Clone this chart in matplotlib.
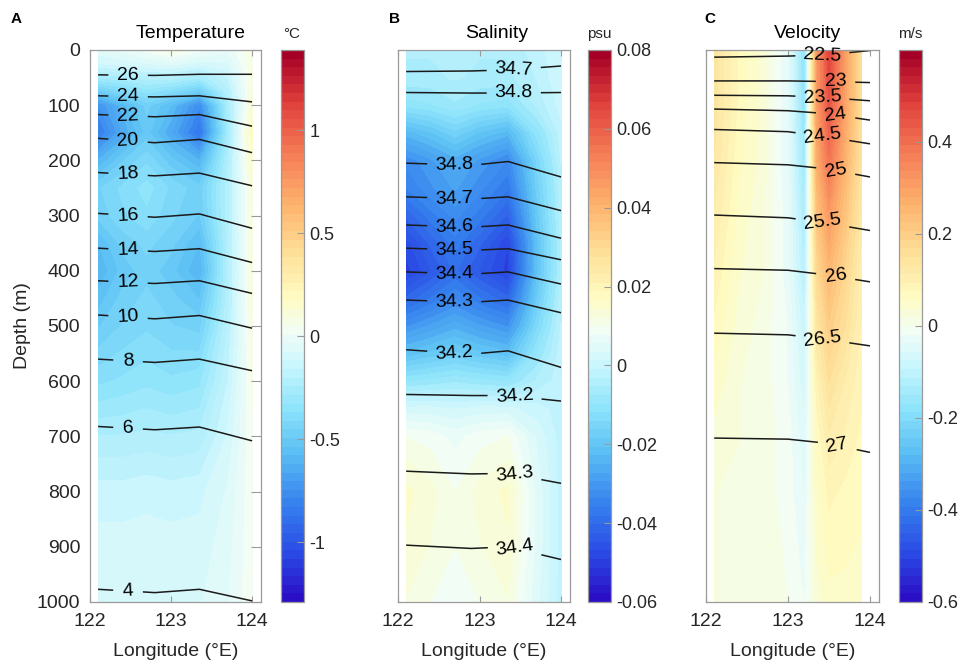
import numpy as np
import matplotlib.pyplot as plt
from matplotlib.colors import LinearSegmentedColormap, Normalize
import matplotlib.cm as cm

plt.rcParams['font.family'] = ['Liberation Sans', 'DejaVu Sans']
plt.rcParams['axes.unicode_minus'] = False

# =========================
# 1. data
# =========================
# --- anomaly fields (filled) ---
temp_lon = [122.1, 122.4, 122.7, 123.0, 123.35, 123.7, 124.0]
temp_depth = [0, 25, 50, 75, 100, 150, 200, 250, 300, 350, 400, 450, 500, 600, 700, 800, 900, 1000]
temp_anom = [
    [-0.05, -0.02, 0.02, 0.08, 0.02, -0.02, 0.08],
    [-0.12, -0.10, -0.08, -0.06, -0.10, -0.08, 0.08],
    [-0.28, -0.26, -0.22, -0.22, -0.28, -0.16, 0.08],
    [-0.50, -0.42, -0.35, -0.40, -0.50, -0.22, 0.10],
    [-0.75, -0.60, -0.48, -0.58, -0.78, -0.26, 0.12],
    [-0.85, -0.66, -0.52, -0.66, -0.88, -0.28, 0.20],
    [-0.62, -0.50, -0.42, -0.52, -0.62, -0.24, 0.15],
    [-0.46, -0.40, -0.35, -0.42, -0.48, -0.22, 0.10],
    [-0.48, -0.42, -0.38, -0.44, -0.50, -0.22, 0.10],
    [-0.58, -0.48, -0.44, -0.48, -0.58, -0.23, 0.10],
    [-0.62, -0.52, -0.47, -0.52, -0.62, -0.23, 0.10],
    [-0.56, -0.48, -0.44, -0.48, -0.54, -0.22, 0.10],
    [-0.50, -0.45, -0.42, -0.45, -0.47, -0.20, 0.08],
    [-0.38, -0.36, -0.34, -0.36, -0.34, -0.16, 0.06],
    [-0.24, -0.24, -0.23, -0.24, -0.23, -0.11, 0.04],
    [-0.14, -0.14, -0.13, -0.14, -0.13, -0.07, 0.04],
    [-0.10, -0.10, -0.10, -0.10, -0.10, -0.05, 0.04],
    [-0.08, -0.08, -0.08, -0.08, -0.08, -0.04, 0.04],
]

sal_lon = [122.1, 122.4, 122.7, 123.0, 123.35, 123.7, 124.0]
sal_depth = [0, 50, 100, 150, 200, 250, 300, 350, 400, 450, 500, 550, 600, 650, 700, 800, 900, 1000]
sal_anom = [
    [-0.005, -0.005, -0.004, -0.005, -0.005, -0.002, 0.001],
    [-0.006, -0.006, -0.005, -0.006, -0.006, -0.003, 0.001],
    [-0.011, -0.010, -0.008, -0.010, -0.011, -0.005, 0.000],
    [-0.024, -0.021, -0.017, -0.021, -0.024, -0.011, -0.002],
    [-0.033, -0.030, -0.026, -0.030, -0.034, -0.016, -0.003],
    [-0.036, -0.032, -0.029, -0.033, -0.038, -0.018, -0.004],
    [-0.042, -0.037, -0.033, -0.037, -0.043, -0.020, -0.004],
    [-0.048, -0.042, -0.037, -0.042, -0.049, -0.022, -0.005],
    [-0.050, -0.045, -0.040, -0.045, -0.050, -0.022, -0.005],
    [-0.042, -0.038, -0.034, -0.038, -0.042, -0.019, -0.004],
    [-0.032, -0.029, -0.026, -0.029, -0.032, -0.015, -0.003],
    [-0.022, -0.020, -0.018, -0.020, -0.022, -0.010, -0.002],
    [-0.010, -0.009, -0.008, -0.009, -0.010, -0.005, -0.002],
    [0.002, 0.002, 0.001, 0.002, 0.002, 0.000, -0.002],
    [0.010, 0.009, 0.007, 0.009, 0.010, 0.003, -0.002],
    [0.015, 0.013, 0.010, 0.013, 0.015, 0.005, -0.002],
    [0.014, 0.012, 0.010, 0.012, 0.014, 0.005, -0.002],
    [0.012, 0.010, 0.009, 0.010, 0.012, 0.004, -0.002],
]

vel_lon = [122.1, 122.4, 122.7, 123.0, 123.2, 123.35, 123.5, 123.7, 123.9]
vel_depth = [0, 100, 200, 300, 400, 500, 600, 700, 800, 1000]
vel_anom = [
    [0.14, 0.07, 0.03, -0.04, -0.18, 0.31, 0.48, 0.30, 0.15],
    [0.14, 0.07, 0.03, -0.04, -0.18, 0.30, 0.45, 0.29, 0.15],
    [0.13, 0.06, 0.03, -0.04, -0.16, 0.27, 0.39, 0.26, 0.14],
    [0.11, 0.05, 0.02, -0.03, -0.14, 0.22, 0.31, 0.22, 0.12],
    [0.09, 0.04, 0.02, -0.03, -0.12, 0.17, 0.25, 0.18, 0.10],
    [0.07, 0.03, 0.01, -0.02, -0.09, 0.13, 0.20, 0.15, 0.09],
    [0.05, 0.02, 0.01, -0.02, -0.07, 0.09, 0.15, 0.11, 0.08],
    [0.03, 0.02, 0.01, -0.01, -0.05, 0.06, 0.11, 0.09, 0.07],
    [0.02, 0.01, 0.01, -0.01, -0.04, 0.05, 0.08, 0.07, 0.06],
    [0.02, 0.01, 0.01, 0.00, -0.02, 0.03, 0.05, 0.05, 0.05],
]

# --- isolines: depth (m) of each row value at a few longitudes ---
temp_line_lon = [122.1, 122.8, 123.35, 124.0]
temp_row_value = [28, 26, 24, 22, 20, 18, 16, 14, 12, 10, 8, 6, 4, 3]
temp_row_depth = [
    [0, 0, 0, 0],
    [45, 46, 44, 44],
    [83, 85, 83, 94],
    [117, 121, 117, 138],
    [160, 168, 162, 186],
    [222, 228, 223, 246],
    [296, 303, 297, 323],
    [359, 365, 360, 385],
    [418, 423, 418, 441],
    [480, 487, 481, 504],
    [560, 566, 560, 581],
    [682, 688, 683, 708],
    [977, 983, 977, 998],
    [1000, 1000, 1000, 1000],
]
temp_levels = [4, 6, 8, 10, 12, 14, 16, 18, 20, 22, 24, 26]

sal_line_lon = [122.1, 122.9, 123.35, 124.0]
sal_row_value = [34.66, 34.7, 34.8, 34.85, 34.8, 34.7, 34.6, 34.5, 34.4, 34.3,
                 34.2, 34.15, 34.2, 34.3, 34.4, 34.45]
sal_row_depth = [
    [0, 0, 0, 0],
    [39, 38, 36, 29],
    [77, 78, 78, 77],
    [140, 142, 140, 150],
    [205, 209, 202, 230],
    [266, 270, 266, 291],
    [317, 321, 317, 341],
    [359, 363, 360, 380],
    [402, 406, 402, 424],
    [453, 457, 453, 476],
    [543, 551, 545, 575],
    [585, 590, 586, 605],
    [624, 626, 626, 636],
    [763, 768, 767, 785],
    [897, 903, 900, 923],
    [1000, 1000, 1000, 1000],
]
sal_levels = [34.2, 34.3, 34.4, 34.5, 34.6, 34.7, 34.8]

dens_line_lon = [122.1, 123.0, 123.45, 124.0]
dens_row_value = [22.3, 22.5, 23, 23.5, 24, 24.5, 25, 25.5, 26, 26.5, 27, 27.3]
dens_row_depth = [
    [0, 0, 0, 0],
    [13, 11, 9, 1],
    [56, 56, 57, 59],
    [82, 83, 86, 92],
    [107, 110, 115, 127],
    [144, 148, 157, 170],
    [204, 208, 215, 230],
    [299, 304, 313, 327],
    [396, 399, 407, 420],
    [513, 516, 524, 536],
    [703, 705, 712, 729],
    [1000, 1000, 1000, 1000],
]
dens_levels = [22.5, 23, 23.5, 24, 24.5, 25, 25.5, 26, 26.5, 27]

# label anchor points (lon, depth)
temp_label_pos = [(122.47, d) for d in [45, 84, 118, 162, 224, 298, 361, 419, 482, 562, 684, 979]]
sal_label_pos = [(123.42, 36), (123.42, 78), (122.69, 207), (122.69, 268), (122.69, 319),
                 (122.69, 361), (122.69, 404), (122.69, 455), (122.69, 547),
                 (123.43, 628), (123.43, 770), (123.43, 905)]
dens_label_pos = [(123.42, 9), (123.58, 58), (123.42, 87), (123.58, 120), (123.42, 158),
                  (123.58, 221), (123.42, 314), (123.58, 412), (123.42, 525), (123.6, 718)]

temp_clim = (-1.29, 1.39)
sal_clim = (-0.06, 0.08)
vel_clim = (-0.6, 0.6)
temp_cticks = [-1, -0.5, 0, 0.5, 1]
temp_cticklabels = ['-1', '-0.5', '0', '0.5', '1']
sal_cticks = [-0.06, -0.04, -0.02, 0, 0.02, 0.04, 0.06, 0.08]
sal_cticklabels = ['-0.06', '-0.04', '-0.02', '0', '0.02', '0.04', '0.06', '0.08']
vel_cticks = [-0.6, -0.4, -0.2, 0, 0.2, 0.4]
vel_cticklabels = ['-0.6', '-0.4', '-0.2', '0', '0.2', '0.4']

# =========================
# 2. colormap
# =========================
cmap = LinearSegmentedColormap.from_list('anom', [
    (0.00, '#2b0fc6'),
    (0.08, '#2a48e4'),
    (0.17, '#3580ee'),
    (0.27, '#5cc0f4'),
    (0.35, '#8fe4fb'),
    (0.43, '#cbf6fd'),
    (0.49, '#f2fdf6'),
    (0.55, '#fefcc4'),
    (0.63, '#fee19a'),
    (0.72, '#fdb46e'),
    (0.82, '#f57a55'),
    (0.91, '#e0403c'),
    (1.00, '#a50026'),
])
cmap_bar = cmap.resampled(64)

# =========================
# 3. figure
# =========================
W, H = 959, 666
fig = plt.figure(figsize=(W / 100, H / 100), dpi=100)

def fbox(x0, y0, x1, y1):
    return [x0 / W, 1 - y1 / H, (x1 - x0) / W, (y1 - y0) / H]

TXT = '#262626'
SPINE = '#9a9a9a'

panels = [
    dict(lon=temp_lon, depth=temp_depth, anom=temp_anom, clim=temp_clim,
         llon=temp_line_lon, lval=temp_row_value, ldep=temp_row_depth, levels=temp_levels,
         lpos=temp_label_pos, fmt='%d', cticks=temp_cticks, ctl=temp_cticklabels,
         ax=(90, 50, 261, 602), cax=(281, 50, 304, 602),
         title='Temperature', tx=191, unit='°C', ux=292, letter='A', lx=16),
    dict(lon=sal_lon, depth=sal_depth, anom=sal_anom, clim=sal_clim,
         llon=sal_line_lon, lval=sal_row_value, ldep=sal_row_depth, levels=sal_levels,
         lpos=sal_label_pos, fmt='%.1f', cticks=sal_cticks, ctl=sal_cticklabels,
         ax=(398, 50, 570, 602), cax=(588, 50, 611, 602),
         title='Salinity', tx=497, unit='psu', ux=599, letter='B', lx=394),
    dict(lon=vel_lon, depth=vel_depth, anom=vel_anom, clim=vel_clim,
         llon=dens_line_lon, lval=dens_row_value, ldep=dens_row_depth, levels=dens_levels,
         lpos=dens_label_pos, fmt='%g', cticks=vel_cticks, ctl=vel_cticklabels,
         ax=(706, 50, 879, 602), cax=(899, 50, 922, 602),
         title='Velocity', tx=808, unit='m/s', ux=910, letter='C', lx=710),
]

for i, p in enumerate(panels):
    ax = fig.add_axes(fbox(*p['ax']))
    norm = Normalize(*p['clim'])
    fill_levels = np.linspace(p['clim'][0], p['clim'][1], 65)
    ax.contourf(p['lon'], p['depth'], np.array(p['anom']), levels=fill_levels,
                cmap=cmap, norm=norm, extend='both')

    X = np.tile(p['llon'], (len(p['lval']), 1))
    Y = np.array(p['ldep'], dtype=float)
    Z = np.tile(np.array(p['lval'], dtype=float)[:, None], (1, len(p['llon'])))
    cs = ax.contour(X, Y, Z, levels=p['levels'], colors='#1a1a1a', linewidths=1.1)
    labels = ax.clabel(cs, manual=p['lpos'], inline=True, inline_spacing=11,
                       fontsize=14, fmt=p['fmt'], colors='k')
    for t in labels:
        t.set_clip_on(False)

    ax.set_xlim(122, 124.11)
    ax.set_ylim(1000, 0)
    ax.set_xticks([122, 123, 124])
    ax.tick_params(axis='x', direction='in', top=True, bottom=True, length=4,
                   width=0.8, color=SPINE, labelsize=14, labelcolor=TXT, pad=8)
    if i == 0:
        ax.set_yticks(np.arange(0, 1001, 100))
        ax.tick_params(axis='y', direction='in', left=False, right=True, length=7,
                       width=0.8, color=SPINE, labelsize=14, labelcolor=TXT, pad=7)
        ax.set_ylabel('Depth (m)', fontsize=14, color=TXT, labelpad=4)
    else:
        ax.set_yticks([])
    ax.set_xlabel('Longitude (°E)', fontsize=14, color=TXT, labelpad=9)
    for s in ax.spines.values():
        s.set_color(SPINE)
        s.set_linewidth(0.9)

    cax = fig.add_axes(fbox(*p['cax']))
    cb = fig.colorbar(cm.ScalarMappable(norm=norm, cmap=cmap_bar), cax=cax)
    cb.set_ticks(p['cticks'])
    cb.set_ticklabels(p['ctl'])
    cb.ax.tick_params(direction='in', length=5, width=0.8, color=SPINE,
                      labelsize=13, labelcolor=TXT, pad=4)
    cb.outline.set_edgecolor(SPINE)
    cb.outline.set_linewidth(0.9)

    fig.text(p['tx'] / W, 1 - 34 / H, p['title'], ha='center', va='center',
             fontsize=14, color='k')
    fig.text(p['ux'] / W, 1 - 34 / H, p['unit'], ha='center', va='center',
             fontsize=11, color=TXT)
    fig.text(p['lx'] / W, 1 - 19 / H, p['letter'], ha='center', va='center',
             fontsize=11, fontweight='bold', color='k')

fig.savefig('out.png', dpi=100)
